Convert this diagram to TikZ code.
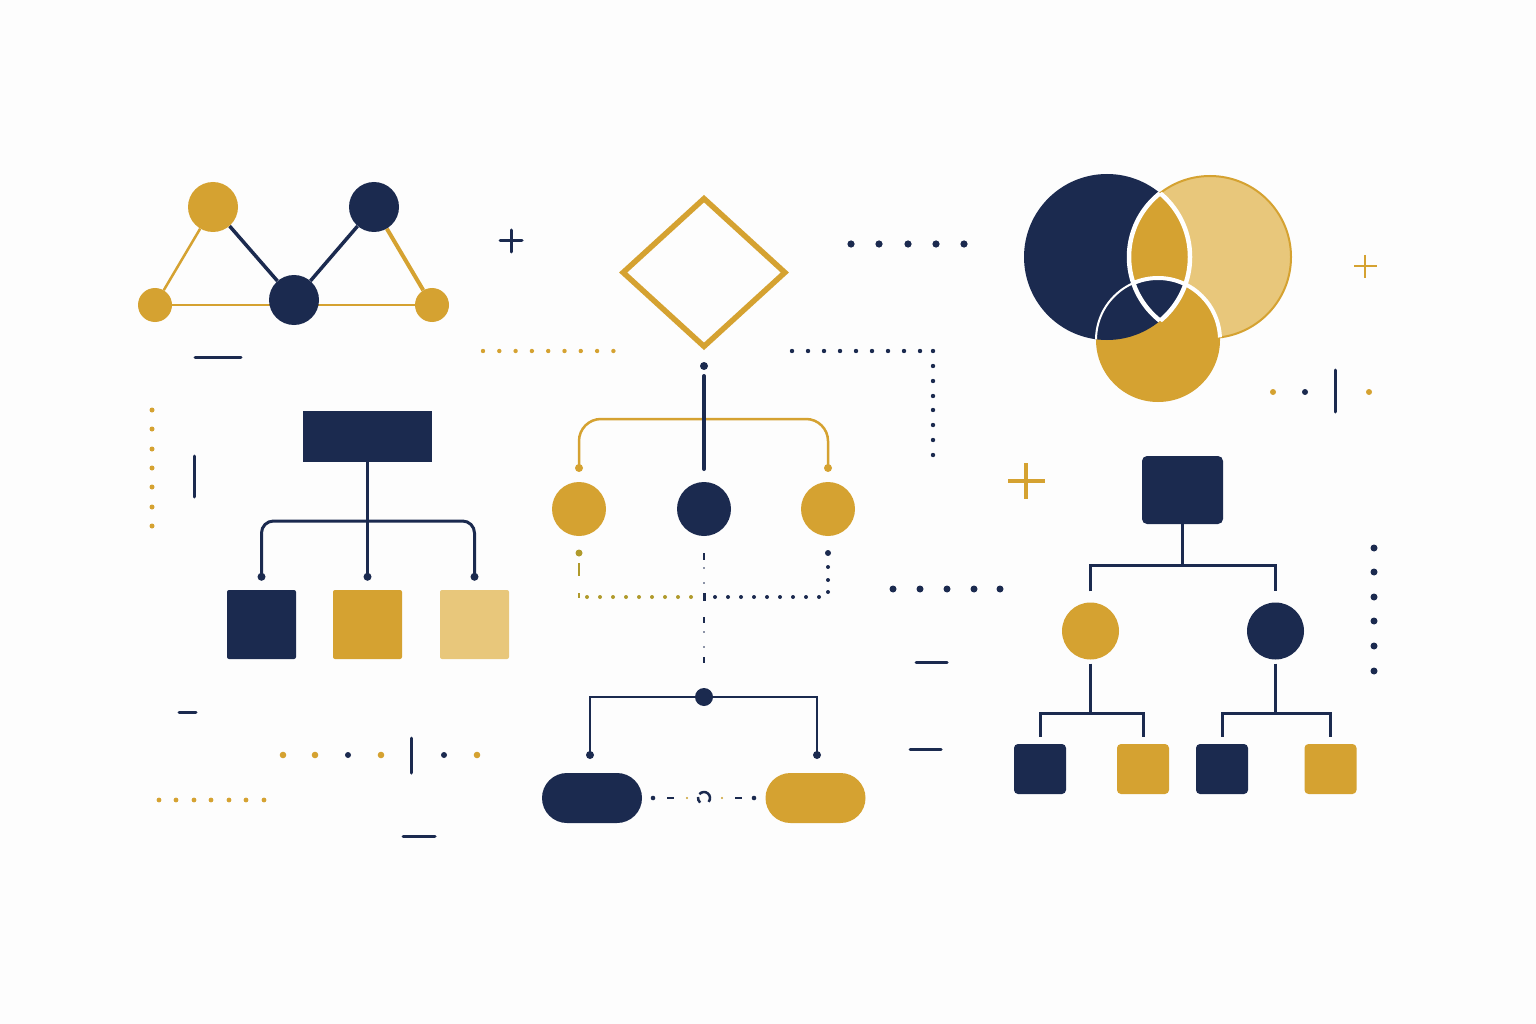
\documentclass[tikz,border=0pt]{standalone}
\usetikzlibrary{calc,shapes.geometric}
\definecolor{navy}{HTML}{1B2A4F}
\definecolor{gold}{HTML}{D5A231}
\definecolor{lgold}{HTML}{E8C77B}
\definecolor{olive}{HTML}{B09A2C}
\definecolor{bgc}{HTML}{FDFDFD}
\pgfdeclarelayer{back}
\pgfdeclarelayer{bg}
\pgfsetlayers{back,bg,main}
\begin{document}
\begin{tikzpicture}[x=1pt,y=-1pt,
  nline/.style={draw=navy,line width=3pt},
  gline/.style={draw=gold,line width=2.5pt},
  ncirc/.style={circle,fill=navy,inner sep=0pt,minimum size=#1},
  gcirc/.style={circle,fill=gold,inner sep=0pt,minimum size=#1},
  sqbox/.style={rectangle,inner sep=0pt,rounded corners=#1},
  tick/.style={line width=3pt,line cap=round}
]
\begin{pgfonlayer}{back}
\fill[bgc] (0,0) rectangle (1536,1024);
\end{pgfonlayer}
\useasboundingbox (0,0) rectangle (1536,1024);

% ---------------- top-left network
\node[gcirc=50pt] (n1) at (213,207) {};
\node[ncirc=50pt] (n2) at (374,207) {};
\node[gcirc=34pt] (n3) at (155,305) {};
\node[ncirc=50pt] (n4) at (294,300) {};
\node[gcirc=34pt] (n5) at (432,305) {};
\begin{pgfonlayer}{bg}
  \draw[gold,line width=2.5pt] (n1) -- (n3);
  \draw[gold,line width=2.5pt] (n3) -- (n5);
  \draw[navy,line width=3.5pt] (n1) -- (n4);
  \draw[navy,line width=3.5pt] (n4) -- (n2);
  \draw[gold,line width=4pt] (n2) -- (n5);
\end{pgfonlayer}
\draw[navy,tick] (195,357) -- (241,357);
\draw[navy,tick] (500,241) -- (522,241);
\draw[navy,tick] (511,230) -- (511,252);

% ---------------- centre diamond and dotted lines
\node[diamond,draw=gold,line width=5.5pt,inner sep=0pt,minimum width=164pt,minimum height=150pt] (dia) at (704,272.5) {};
\foreach \i in {0,...,8} \fill[gold] ({483+16.3*\i},351) circle[radius=2.2pt];
\foreach \x in {792,808,824,840,856,872,888,904,920,933} \fill[navy] (\x,351) circle[radius=2.2pt];
\foreach \y in {366,381,396,410,425,440,455} \fill[navy] (933,\y) circle[radius=2.2pt];
\foreach \x in {851,879,908,936,964} \fill[navy] (\x,244) circle[radius=3.6pt];

% ---------------- centre tree
\node[ncirc=8pt] (cd) at (704,366) {};
\coordinate (cl1) at (704,376);
\coordinate (cl2) at (704,469);
\draw[navy,line width=4pt,line cap=round] (cl1) -- (cl2);
\node[gcirc=54pt] (c1) at (579,509) {};
\node[ncirc=54pt] (c2) at (704,509) {};
\node[gcirc=54pt] (c3) at (828,509) {};
\coordinate (cj) at (704,419);
\node[gcirc=8pt] (gd1) at (579,468) {};
\node[gcirc=8pt] (gd3) at (828,468) {};
\begin{pgfonlayer}{bg}
\draw[gold,line width=2.5pt,rounded corners=22pt] (gd1.center) |- (cj) -| (gd3.center);
\end{pgfonlayer}

% dotted connectors under the circles
\fill[olive] (579,553) circle[radius=3.5pt];
\draw[olive,line width=2.5pt] (579,563) -- (579,576);
\draw[olive,line width=2.5pt] (579,593) -- (579,598);
\foreach \x in {587,600,613,626,639,652,665,678,691} \fill[olive] (\x,597) circle[radius=2pt];
\foreach \x in {715,728,741,754,767,780,793,806,819} \fill[navy] (\x,597) circle[radius=2pt];
\fill[navy] (828,553) circle[radius=3pt];
\foreach \y in {567,580,592} \fill[navy] (828,\y) circle[radius=2pt];
\draw[navy,line width=2.5pt] (704,553) -- (704,560);
\fill[navy] (704,568) circle[radius=0.9pt];
\fill[navy] (704,583) circle[radius=0.9pt];
\draw[navy,line width=3pt] (704,593) -- (704,601);
\draw[navy,line width=2.5pt] (704,617) -- (704,623);
\fill[navy] (704,632) circle[radius=0.9pt];
\fill[navy] (704,647) circle[radius=0.9pt];
\draw[navy,line width=2.5pt] (704,657) -- (704,663);

% ---------------- bottom centre bracket and pills
\node[ncirc=18pt] (bj) at (704,697) {};
\node[ncirc=8pt] (bl) at (590,755) {};
\node[ncirc=8pt] (br) at (817,755) {};
\begin{pgfonlayer}{bg}
\draw[navy,line width=2.5pt] (bl.center) |- (bj.center) -| (br.center);
\end{pgfonlayer}
\node[sqbox=25pt,fill=navy,minimum width=100pt,minimum height=50pt] (p1) at (592,798) {};
\node[sqbox=25pt,fill=gold,minimum width=100pt,minimum height=50pt] (p2) at (815.5,798) {};
\fill[navy] (653,798) circle[radius=2.3pt];
\draw[navy,line width=2.5pt] (667,798) -- (674,798);
\fill[gold!70!olive] (687,798) circle[radius=1.2pt];
\draw[navy,line width=2.5pt] (704,798) ++(-40:6pt) arc[start angle=-40,end angle=140,radius=6pt];
\draw[navy,line width=2.5pt] (704,798) ++(170:6pt) arc[start angle=170,end angle=230,radius=6pt];
\fill[gold!70!olive] (722,798) circle[radius=1.2pt];
\draw[navy,line width=2.5pt] (735,798) -- (742,798);
\fill[navy] (754,798) circle[radius=2.3pt];

% ---------------- left org chart
\foreach \y in {410,429,449,468,487,507,526} \fill[gold] (152,\y) circle[radius=2.5pt];
\draw[navy,tick] (194,456) -- (194,497);
\node[sqbox=0pt,fill=navy,minimum width=129pt,minimum height=51pt] (lt) at (367.5,436.5) {};
\node[sqbox=2pt,fill=navy,minimum width=69pt,minimum height=69pt] (ls1) at (261.5,624.5) {};
\node[sqbox=2pt,fill=gold,minimum width=69pt,minimum height=69pt] (ls2) at (367.5,624.5) {};
\node[sqbox=2pt,fill=lgold,minimum width=69pt,minimum height=69pt] (ls3) at (474.5,624.5) {};
\coordinate (lj1) at ($(ls1.north)+(0,-13)$);
\coordinate (lj2) at ($(ls2.north)+(0,-13)$);
\coordinate (lj3) at ($(ls3.north)+(0,-13)$);
\coordinate (lj) at (367.5,521);
\draw[nline] (lt.south) -- (lj2);
\draw[nline,rounded corners=12pt] (lj1) |- (lj) -| (lj3);
\foreach \c in {lj1,lj2,lj3} \fill[navy] (\c) circle[radius=4pt];

% ---------------- bottom-left marks
\draw[navy,tick] (179,712) -- (196,712);
\foreach \x in {283,315,381,477} \fill[gold] (\x,755) circle[radius=3.3pt];
\foreach \x in {348,444} \fill[navy] (\x,755) circle[radius=3pt];
\draw[navy,tick] (411,738) -- (411,773);
\foreach \x in {159,176,194,211,229,246,264} \fill[gold] (\x,800) circle[radius=2.4pt];
\draw[navy,tick] (403,836) -- (435,836);

% ---------------- Venn diagram
\def\CA{(1107,257) circle[radius=83pt]}
\def\CB{(1210,257) circle[radius=81pt]}
\def\CC{(1158,340) circle[radius=62pt]}
\fill[navy] \CA;
\fill[lgold] \CB;
\draw[gold,line width=2pt] \CB;
\begin{scope}\clip \CA; \fill[gold] \CB; \end{scope}
\fill[gold] \CC;
\begin{scope}\clip \CA; \fill[navy] \CC; \end{scope}
\begin{scope}\clip \CB; \draw[white,line width=4.5pt] \CA; \end{scope}
\begin{scope}\clip \CA; \draw[white,line width=4.5pt] \CB; \end{scope}
\begin{scope}\clip \CA; \draw[white,line width=2pt] \CC; \end{scope}
\begin{scope}\clip \CB; \draw[white,line width=4pt] \CC; \end{scope}

% ---------------- right marks
\draw[gold,line width=2.5pt] (1354,266) -- (1377,266);
\draw[gold,line width=2.5pt] (1365,255) -- (1365,278);
\fill[gold] (1273,392) circle[radius=3pt];
\fill[navy] (1305,392) circle[radius=3pt];
\draw[navy,tick] (1335,370) -- (1335,412);
\fill[gold] (1369,392) circle[radius=3pt];
\draw[gold,line width=3.5pt] (1008,481) -- (1045,481);
\draw[gold,line width=3.5pt] (1026,463) -- (1026,499);
\foreach \x in {893,920,947,974,1000} \fill[navy] (\x,589) circle[radius=3.5pt];
\draw[navy,tick] (916,662) -- (947,662);
\draw[navy,tick] (910,749) -- (941,749);
\foreach \y in {548,572,597,621,646,671} \fill[navy] (1374,\y) circle[radius=3.5pt];

% ---------------- right org chart
\node[sqbox=5pt,fill=navy,minimum width=81pt,minimum height=68pt] (rt) at (1182.5,490) {};
\node[gcirc=57pt] (rc1) at (1090.5,631) {};
\node[ncirc=57pt] (rc2) at (1275.5,631) {};
\node[sqbox=4pt,fill=navy,minimum width=52pt,minimum height=50pt] (rs1) at (1040,769) {};
\node[sqbox=4pt,fill=gold,minimum width=52pt,minimum height=50pt] (rs2) at (1143,769) {};
\node[sqbox=4pt,fill=navy,minimum width=52pt,minimum height=50pt] (rs3) at (1222,769) {};
\node[sqbox=4pt,fill=gold,minimum width=52pt,minimum height=50pt] (rs4) at (1330.5,769) {};
\coordinate (rj) at (1182.5,565);
\coordinate (rq1) at ($(rc1.north)+(0,-11)$);
\coordinate (rq2) at ($(rc2.north)+(0,-11)$);
\draw[nline] (rt.south) -- (rj);
\draw[nline] (rq1) |- (rj) -| (rq2);
\coordinate (rk1) at (1090.5,713);
\coordinate (rk2) at (1275.5,713);
\coordinate (rs1t) at ($(rs1.north)+(0,-7)$);
\coordinate (rs2t) at ($(rs2.north)+(0,-7)$);
\coordinate (rs3t) at ($(rs3.north)+(0,-7)$);
\coordinate (rs4t) at ($(rs4.north)+(0,-7)$);
\draw[nline] ($(rc1.south)+(0,4)$) -- (rk1);
\draw[nline] ($(rc2.south)+(0,4)$) -- (rk2);
\draw[nline] (rs1t) |- (rk1) -| (rs2t);
\draw[nline] (rs3t) |- (rk2) -| (rs4t);
\end{tikzpicture}
\end{document}
